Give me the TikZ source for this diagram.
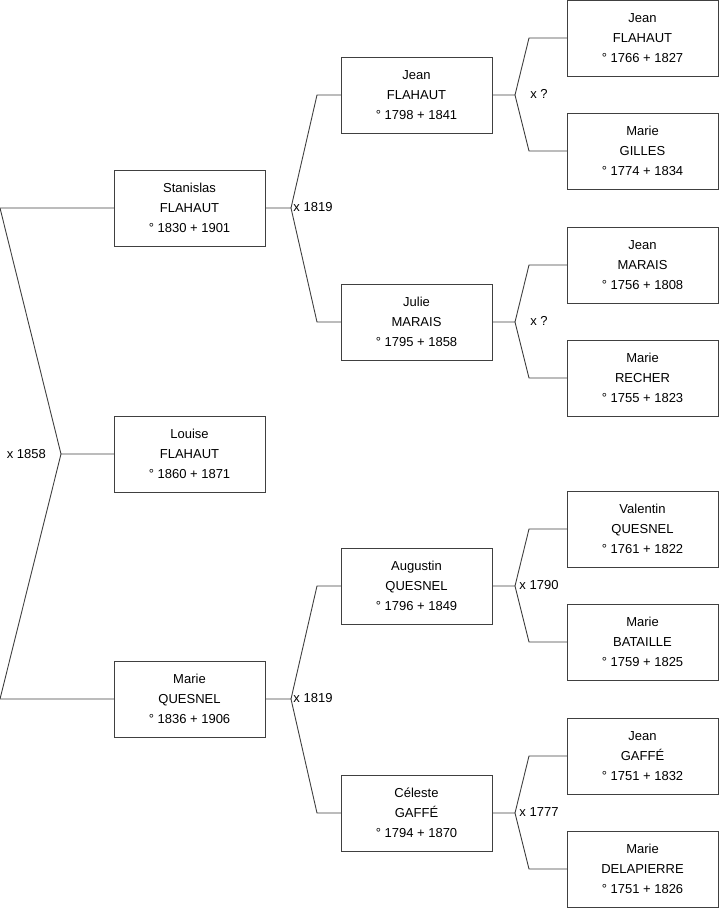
\documentclass[tikz,border=0pt]{standalone}
\usepackage{fontspec}
\setmainfont{Liberation Sans}
\usepackage{tikz}
\usetikzlibrary{positioning,calc}

\begin{document}
\begin{tikzpicture}[x=1pt, y=1pt, node distance=76pt,
    person/.style={rectangle, draw=black!75, line width=0.9pt, fill=white, minimum width=151pt, minimum height=76pt, align=center, inner sep=0pt, outer sep=0pt, font=\fontsize{13}{20}\selectfont},
    link/.style={draw=black!75, line width=0.9pt},
    wed/.style={inner sep=0pt, font=\fontsize{13}{16}\selectfont}]

    \useasboundingbox (0,0) rectangle (719,-908);

    % generation 1
    \node [person] (stan) at (189.5,-208) {Stanislas\\FLAHAUT\\° 1830 + 1901};
    \node [person, below=170pt of stan] (louise) {Louise\\FLAHAUT\\° 1860 + 1871};
    \node [person, below=169pt of louise] (marieq) {Marie\\QUESNEL\\° 1836 + 1906};

    % generation 2
    \node [person, right=76pt of stan, yshift=113pt] (jeanf) {Jean\\FLAHAUT\\° 1798 + 1841};
    \node [person, right=76pt of stan, yshift=-114pt] (julie) {Julie\\MARAIS\\° 1795 + 1858};
    \node [person, right=76pt of marieq, yshift=113pt] (augustin) {Augustin\\QUESNEL\\° 1796 + 1849};
    \node [person, right=76pt of marieq, yshift=-114pt] (celeste) {Céleste\\GAFFÉ\\° 1794 + 1870};

    % generation 3
    \node [person, right=75pt of jeanf, yshift=57pt] (jeanff) {Jean\\FLAHAUT\\° 1766 + 1827};
    \node [person, right=75pt of jeanf, yshift=-56pt] (gilles) {Marie\\GILLES\\° 1774 + 1834};
    \node [person, right=75pt of julie, yshift=57pt] (jeanm) {Jean\\MARAIS\\° 1756 + 1808};
    \node [person, right=75pt of julie, yshift=-56pt] (recher) {Marie\\RECHER\\° 1755 + 1823};
    \node [person, right=75pt of augustin, yshift=57pt] (valentin) {Valentin\\QUESNEL\\° 1761 + 1822};
    \node [person, right=75pt of augustin, yshift=-56pt] (bataille) {Marie\\BATAILLE\\° 1759 + 1825};
    \node [person, right=75pt of celeste, yshift=57pt] (jeang) {Jean\\GAFFÉ\\° 1751 + 1832};
    \node [person, right=75pt of celeste, yshift=-56pt] (delapierre) {Marie\\DELAPIERRE\\° 1751 + 1826};

    % marriage forks
    \coordinate (xl) at ($(louise.west)+(-53,0)$);
    \coordinate (xs) at ($(stan.east)+(26,0)$);
    \coordinate (xm) at ($(marieq.east)+(26,0)$);
    \coordinate (xj) at ($(jeanf.east)+(23,0)$);
    \coordinate (xu) at ($(julie.east)+(23,0)$);
    \coordinate (xa) at ($(augustin.east)+(23,0)$);
    \coordinate (xc) at ($(celeste.east)+(23,0)$);

    \draw [link] (stan.west) -- ([xshift=-114pt]stan.west) -- (xl) -- (louise.west);
    \draw [link] (xl) -- ([xshift=-114pt]marieq.west) -- (marieq.west);

    \draw [link] (stan.east) -- (xs) -- ([xshift=-24pt]jeanf.west) -- (jeanf.west);
    \draw [link] (xs) -- ([xshift=-24pt]julie.west) -- (julie.west);
    \draw [link] (marieq.east) -- (xm) -- ([xshift=-24pt]augustin.west) -- (augustin.west);
    \draw [link] (xm) -- ([xshift=-24pt]celeste.west) -- (celeste.west);

    \draw [link] (jeanf.east) -- (xj) -- ([xshift=-38pt]jeanff.west) -- (jeanff.west);
    \draw [link] (xj) -- ([xshift=-38pt]gilles.west) -- (gilles.west);
    \draw [link] (julie.east) -- (xu) -- ([xshift=-38pt]jeanm.west) -- (jeanm.west);
    \draw [link] (xu) -- ([xshift=-38pt]recher.west) -- (recher.west);
    \draw [link] (augustin.east) -- (xa) -- ([xshift=-38pt]valentin.west) -- (valentin.west);
    \draw [link] (xa) -- ([xshift=-38pt]bataille.west) -- (bataille.west);
    \draw [link] (celeste.east) -- (xc) -- ([xshift=-38pt]jeang.west) -- (jeang.west);
    \draw [link] (xc) -- ([xshift=-38pt]delapierre.west) -- (delapierre.west);

    % marriage years
    \node [wed, left=15pt of xl] (wl) {x 1858};
    \node [wed] (ws) at ($(xs)+(22,1)$) {x 1819};
    \node [wed] (wm) at ($(xm)+(22,1)$) {x 1819};
    \node [wed] (wj) at ($(xj)+(24,1)$) {x ?};
    \node [wed] (wu) at ($(xu)+(24,1)$) {x ?};
    \node [wed] (wa) at ($(xa)+(24,1)$) {x 1790};
    \node [wed] (wc) at ($(xc)+(24,1)$) {x 1777};
\end{tikzpicture}
\end{document}
